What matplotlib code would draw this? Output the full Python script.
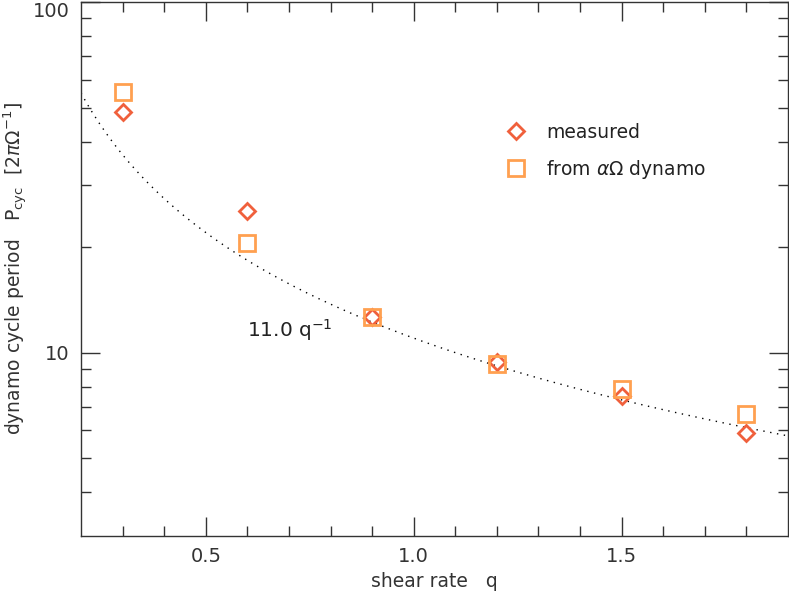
import numpy as np
import matplotlib
matplotlib.use("Agg")
import matplotlib.pyplot as plt
from matplotlib.ticker import FixedLocator, NullFormatter

# shear rates and cycle periods
q = [0.3, 0.6, 0.9, 1.2, 1.5, 1.8]
p_measured = [48.5, 25.3, 12.6, 9.4, 7.5, 5.9]
p_dynamo = [55.3, 20.5, 12.6, 9.3, 7.9, 6.7]
fit_coef = 11.0

plt.rcParams["font.family"] = ["DejaVu Sans"]
ink = "#333333"

fig = plt.figure(figsize=(7.89, 5.95), dpi=100)
ax = fig.add_axes([0.1027, 0.0992, 0.8960, 0.8974])

qq = np.linspace(0.2, 1.9, 200)
ax.plot(qq, fit_coef / qq, ls=(0, (1, 4)), color="k", lw=1.0)
ax.plot(q, p_measured, "D", ms=8, mfc="none", mec="#F0603C", mew=2,
        ls="none", label="measured")
ax.plot(q, p_dynamo, "s", ms=12, mfc="none", mec="#FFA050", mew=2,
        ls="none", label=r"from $\alpha\Omega$ dynamo")
ax.text(0.6, 11.6, r"11.0 q$^{-1}$", fontsize=14.5, color="#222222",
        ha="left", va="center")

ax.set_yscale("log")
ax.set_xlim(0.2, 1.9)
ax.set_ylim(3, 100)
ax.xaxis.set_major_locator(FixedLocator([0.5, 1.0, 1.5]))
ax.xaxis.set_minor_locator(FixedLocator(np.arange(0.3, 1.9, 0.1)))
ax.yaxis.set_major_locator(FixedLocator([10, 100]))
ax.yaxis.set_minor_locator(FixedLocator([4, 5, 6, 7, 8, 9, 20, 30, 40, 50, 60, 70, 80, 90]))
ax.yaxis.set_minor_formatter(NullFormatter())
ax.set_xticklabels(["0.5", "1.0", "1.5"])
ax.set_yticklabels(["10", "100"])

ax.tick_params(which="both", direction="in", top=True, right=True,
               color=ink, labelcolor=ink, labelsize=14, width=1)
ax.tick_params(which="major", length=14, pad=8)
ax.tick_params(which="minor", length=7)
# keep the top label inside the figure
ax.get_yticklabels()[1].set_va("top")
for s in ax.spines.values():
    s.set_color(ink)
    s.set_linewidth(1)

ax.set_xlabel("shear rate   q", fontsize=13.5, color=ink, labelpad=4)
ax.set_ylabel(r"dynamo cycle period   P$_{\rm cyc}$  [2$\pi\Omega^{-1}$]",
              fontsize=13.5, color=ink, labelpad=2)

ax.legend(loc="upper left", bbox_to_anchor=(0.565, 0.805), frameon=False,
          fontsize=13.5, handletextpad=0.6, labelspacing=0.85, numpoints=1,
          labelcolor="#222222")

fig.savefig("out.png", dpi=100)
